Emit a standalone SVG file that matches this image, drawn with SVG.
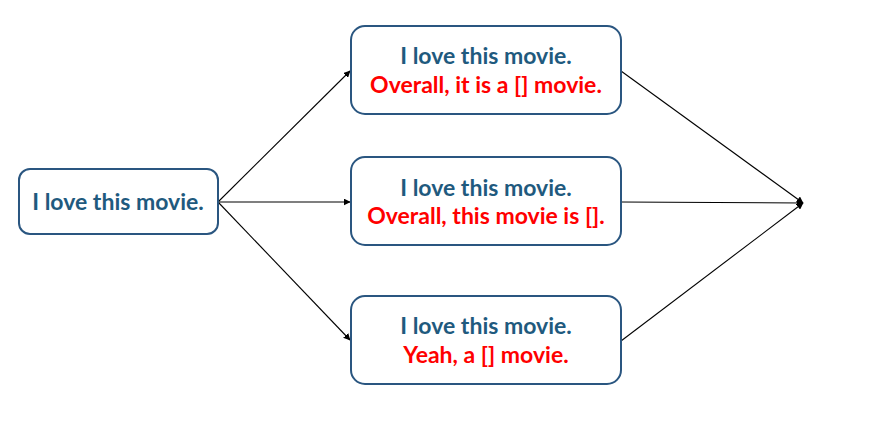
<svg xmlns="http://www.w3.org/2000/svg" width="878" height="442" viewBox="0 0 878 442">
<style>
.box{fill:#ffffff;stroke:#2a5680;stroke-width:2}
.t{font-family:"Lato","Liberation Sans",sans-serif;font-weight:bold;font-size:23px;text-anchor:middle}
.b{fill:#1f5a7e}
.r{fill:#ff0000}
.c{stroke:#000000;stroke-width:1.1;fill:none;marker-end:url(#ah)}
</style>
<defs>
<marker id="ah" viewBox="0 0 10 10" refX="9" refY="5" markerWidth="7" markerHeight="7" orient="auto" markerUnits="userSpaceOnUse">
<path d="M0,0 L10,5 L0,10 z" fill="#000000"/>
</marker>
</defs>
<rect width="878" height="442" fill="#ffffff"/>
<g id="connectors">
<line class="c" x1="218" y1="202" x2="350" y2="71"/>
<line class="c" x1="218" y1="202" x2="350" y2="202"/>
<line class="c" x1="218" y1="202" x2="350" y2="340"/>
<line class="c" x1="621" y1="71" x2="803" y2="203"/>
<line class="c" x1="621" y1="202" x2="803" y2="203"/>
<line class="c" x1="621" y1="341" x2="803" y2="203"/>
</g>
<g id="n0">
<rect class="box" x="19" y="169" width="199" height="65" rx="11"/>
<text class="t b" x="118" y="210">I love this movie.</text>
</g>
<g id="n1">
<rect class="box" x="351" y="26" width="270" height="88" rx="14"/>
<text class="t b" x="486" y="64">I love this movie.</text>
<text class="t r" x="486" y="93">Overall, it is a [] movie.</text>
</g>
<g id="n2">
<rect class="box" x="351" y="157" width="270" height="88" rx="14"/>
<text class="t b" x="486" y="196">I love this movie.</text>
<text class="t r" x="486" y="224">Overall, this movie is [].</text>
</g>
<g id="n3">
<rect class="box" x="351" y="296" width="270" height="88" rx="14"/>
<text class="t b" x="486" y="334">I love this movie.</text>
<text class="t r" x="486" y="363">Yeah, a [] movie.</text>
</g>
</svg>
